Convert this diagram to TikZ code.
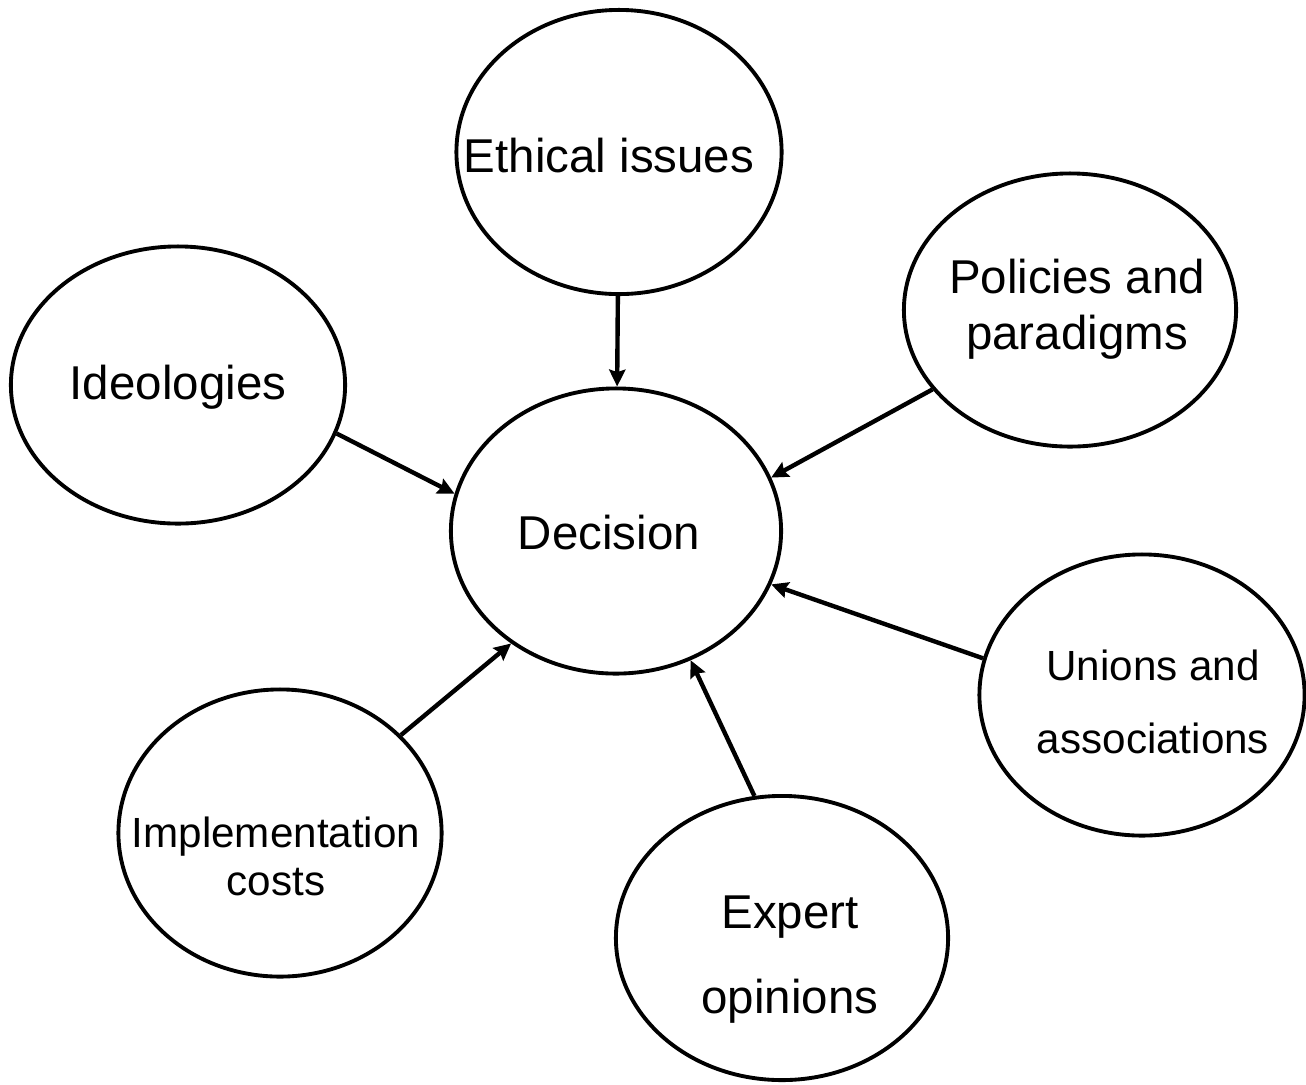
\documentclass[tikz,border=0pt]{standalone}
\usepackage{fontspec}
\setmainfont{Liberation Sans}
\usetikzlibrary{arrows.meta,shapes.geometric}

\begin{document}
\begin{tikzpicture}[x=0.01cm, y=-0.01cm,
    bubble/.style={draw, ellipse, line width=1.1pt, minimum width=3.28cm, minimum height=2.83cm, inner sep=0pt},
    lbl/.style={align=center, inner sep=0pt, font=\fontsize{13.5}{16}\selectfont},
    smalltext/.style={font=\fontsize{12}{#1}\selectfont},
    link/.style={line width=1.25pt, -{Stealth[length=4.8pt,width=4.6pt,inset=0.7pt]}}]
        \useasboundingbox (0,0) rectangle (1306,1084);
        % bubbles
        \node[bubble, minimum width=3.25cm, minimum height=2.84cm] (eth) at (619,152) {};
        \node[bubble, minimum width=3.32cm, minimum height=2.73cm] (pol) at (1070,310) {};
        \node[bubble, minimum width=3.34cm, minimum height=2.77cm] (ide) at (178,385) {};
        \node[bubble, minimum width=3.30cm, minimum height=2.85cm] (dec) at (616,531) {};
        \node[bubble, minimum width=3.25cm, minimum height=2.81cm] (uni) at (1142,695) {};
        \node[bubble, minimum width=3.23cm, minimum height=2.87cm] (imp) at (280,833) {};
        \node[bubble, minimum width=3.32cm, minimum height=2.84cm] (exp) at (782,938) {};
        % texts
        \node[lbl] (eth-t) at (609,156) {Ethical issues};
        \node[lbl] (dec-t) at (609,533) {Decision};
        \node[lbl] (ide-t) at (178,387) {Ideologies};
        \node[lbl] (pol-t) at (1077,309) {Policies and\\paradigms};
        \node[lbl, smalltext=20.8] (uni-t) at (1153,702) {Unions and\\associations};
        \node[lbl, smalltext=13.7] (imp-t) at (276,856) {Implementation\\costs};
        \node[lbl, font=\fontsize{13.5}{24.2}\selectfont] (exp-t) at (790,960) {Expert\\opinions};
        % arrows
        \draw[link] (eth) -- (dec);
        \draw[link] (pol.210) -- (dec.19);
        \draw[link] (ide.-17) -- (dec.167);
        \draw[link] (uni.167) -- (dec.-19);
        \draw[link] (exp.101) -- (dec.-60);
        \draw[link] (imp.39) -- (dec.-133);
\end{tikzpicture}
\end{document}
